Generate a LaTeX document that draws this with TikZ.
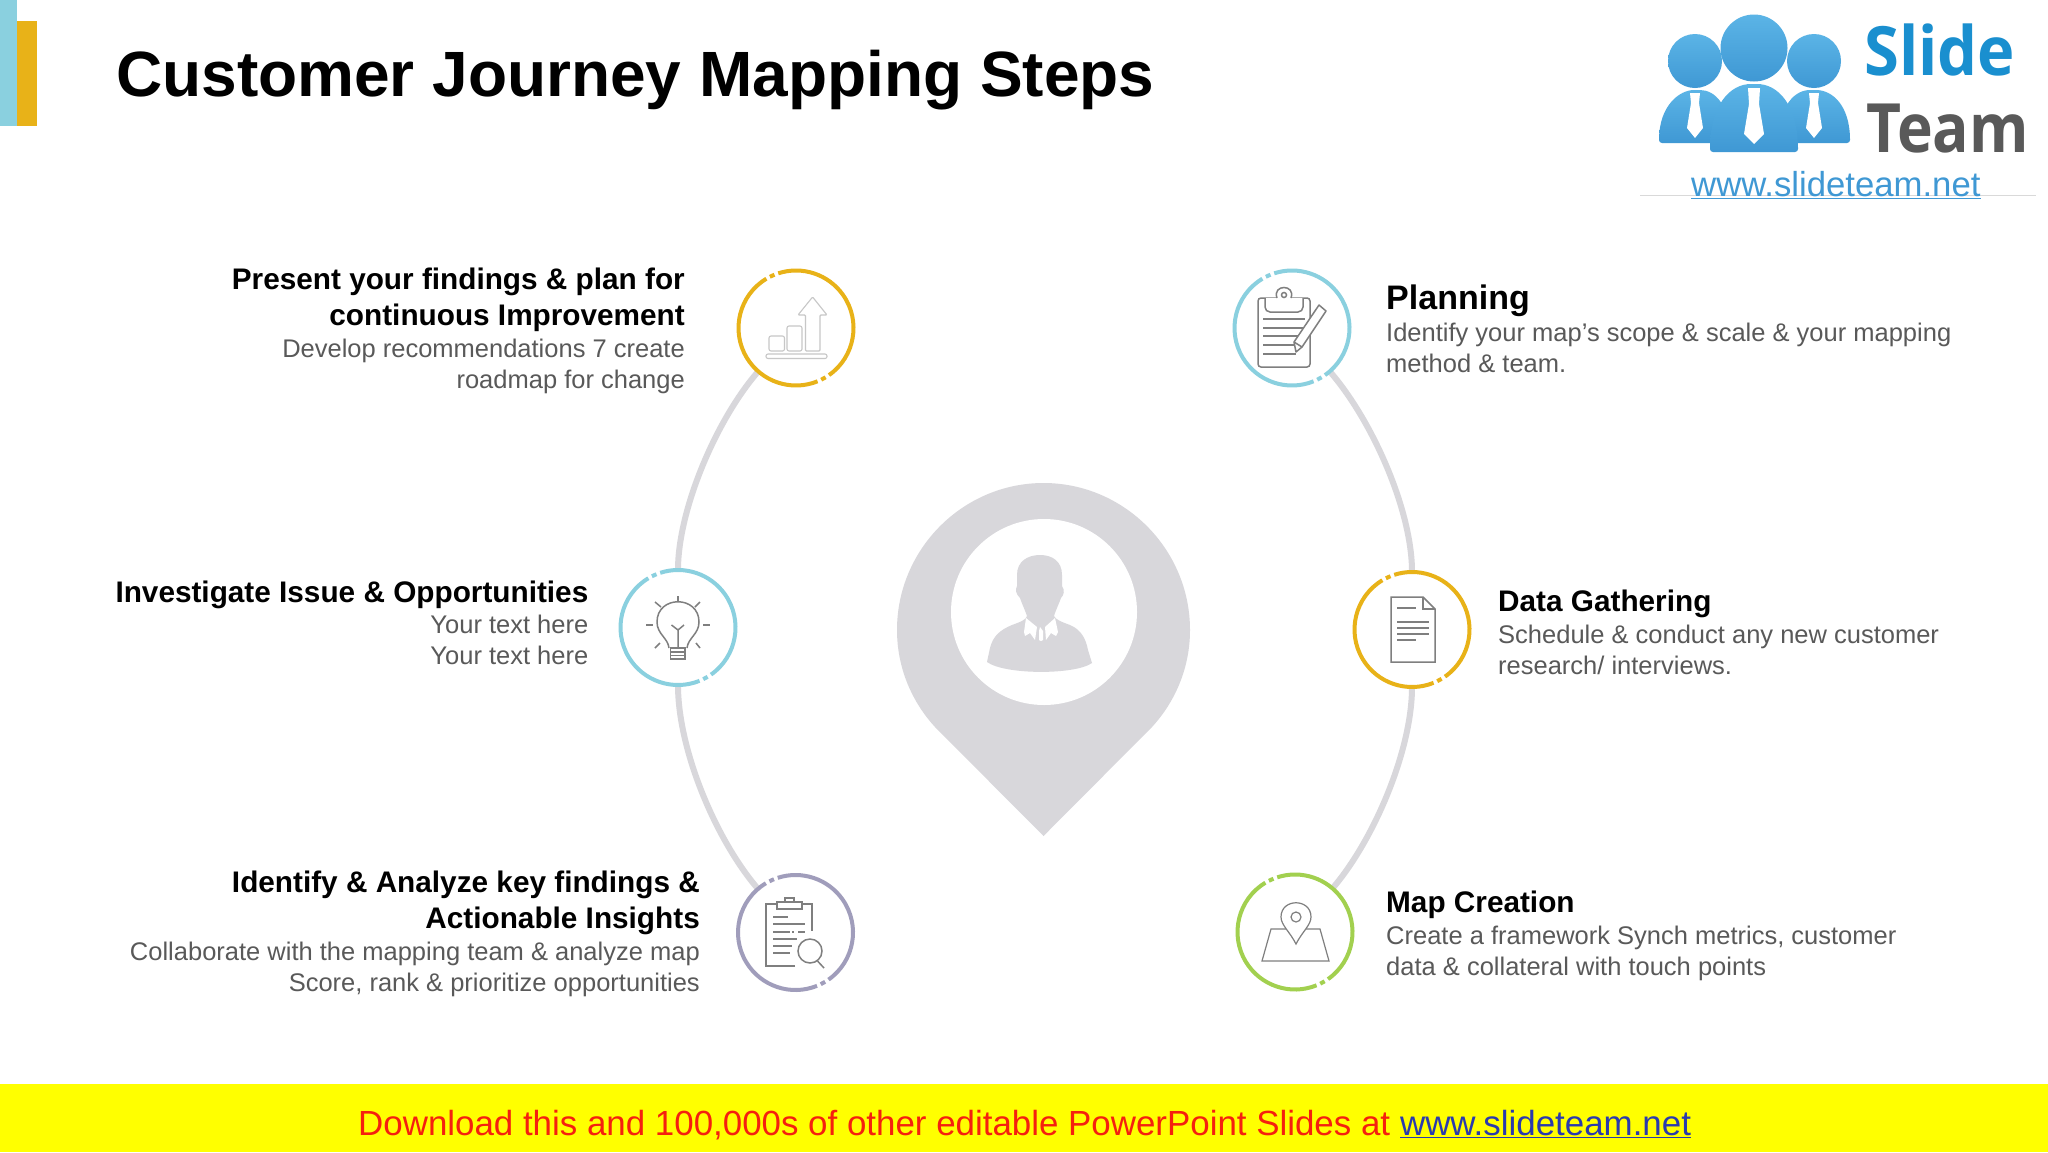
\documentclass[tikz,border=0pt]{standalone}
\usepackage{fontspec}
\setmainfont{Liberation Sans}
\newfontfamily\logofont{Open Sans}
\definecolor{tealc}{HTML}{8AD0DF}
\definecolor{goldc}{HTML}{E8B218}
\definecolor{purplec}{HTML}{A09DBB}
\definecolor{greenc}{HTML}{A2D04F}
\definecolor{pingrey}{HTML}{D8D7DB}
\definecolor{iconc}{HTML}{7F7F7F}
\definecolor{bodyc}{HTML}{595959}
\definecolor{logob}{HTML}{5BB4E6}
\definecolor{logod}{HTML}{3F98D4}
\definecolor{slidec}{HTML}{1A8FCF}
\definecolor{footy}{HTML}{FFFF00}
\definecolor{footr}{HTML}{F5200F}
\definecolor{footb}{HTML}{2A3AAE}
\tikzset{
  x=1pt,y=-1pt,
  ringnode/.style={circle,fill=white,minimum size=115pt,inner sep=0pt},
  arcline/.style={draw=pingrey,line width=6pt},
  ic/.style={draw=iconc,line width=1.5pt},
  iclight/.style={draw=black!22,line width=1.1pt},
  head/.style={anchor=base east,align=right,inner sep=0pt,font=\fontsize{29.75}{36}\selectfont\bfseries},
  headl/.style={anchor=base west,align=left,inner sep=0pt,font=\fontsize{29.75}{36}\selectfont\bfseries},
  bodyr/.style={anchor=base east,align=right,inner sep=0pt,text=bodyc,font=\fontsize{25.5}{31}\selectfont},
  bodyl/.style={anchor=base west,align=left,inner sep=0pt,text=bodyc,font=\fontsize{25.5}{31}\selectfont},
}
\newcommand{\ringmark}[2]{%
  \begin{scope}[shift={(#1)},y=1pt,draw=#2,line width=4pt]
    \draw (-55:57.5pt) arc[start angle=-55,end angle=108,radius=57.5pt];
    \draw (112:57.5pt) arc[start angle=112,end angle=117,radius=57.5pt];
    \draw (121:57.5pt) arc[start angle=121,end angle=292,radius=57.5pt];
    \draw (296:57.5pt) arc[start angle=296,end angle=301,radius=57.5pt];
  \end{scope}}
\begin{document}
\begin{tikzpicture}
\useasboundingbox (0,0) rectangle (2048,1152);
\fill[white] (0,0) rectangle (2048,1152);
% corner bars
\fill[tealc] (0,0) rectangle (17,126);
\fill[goldc] (17,21) rectangle (37,126);
% title
\node[anchor=base west,inner sep=0pt,font=\fontsize{64}{70}\selectfont\bfseries] (title) at (116,96) {Customer Journey Mapping Steps};
% logo
\draw[black!15,line width=1pt] (1640,195) -- (2036,195);
\shade[top color=logob,bottom color=logod,rounded corners=3pt] (1659,143) .. controls (1659,105) and (1680,90) .. (1697,90) .. controls (1715,90) and (1730,105) .. (1730,143) -- cycle;
\shade[top color=logob,bottom color=logod,rounded corners=3pt] (1779,143) .. controls (1779,105) and (1795,90) .. (1813,90) .. controls (1832,90) and (1850,105) .. (1850,143) -- cycle;
\shade[top color=logob,bottom color=logod,rounded corners=3pt] (1710,152) .. controls (1710,105) and (1730,84) .. (1754,84) .. controls (1778,84) and (1798,105) .. (1798,152) -- cycle;
\shade[top color=logob,bottom color=logod] (1695,61) circle[radius=27pt];
\shade[top color=logob,bottom color=logod] (1814,61) circle[radius=27pt];
\shade[top color=logob,bottom color=logod] (1754,48) circle[radius=33.5pt];
\fill[white] (1690,93) -- (1700,93) -- (1699,103) -- (1703,128) -- (1695,138) -- (1687,128) -- (1691,103) -- cycle;
\fill[white] (1809,93) -- (1819,93) -- (1818,103) -- (1822,128) -- (1814,138) -- (1806,128) -- (1810,103) -- cycle;
\fill[white] (1748,88) -- (1760,88) -- (1759,104) -- (1764,134) -- (1754,144) -- (1744,134) -- (1749,104) -- cycle;
\node[anchor=base west,inner sep=0pt,text=slidec,font=\logofont\fontsize{68}{70}\selectfont\bfseries] (slide) at (1864,75) {\scalebox{.93}[1]{Slide}};
\node[anchor=base west,inner sep=0pt,text=black!65,font=\logofont\fontsize{68}{70}\selectfont\bfseries] (team) at (1866,152) {\scalebox{.89}[1]{Team}};
\node[anchor=base west,inner sep=0pt,text=logod,font=\fontsize{34.7}{38}\selectfont] (url) at (1691,196) {\underline{www.slideteam.net}};
% pin
\fill[pingrey] (935,727) .. controls (912,702) and (897,668) .. (897,630)
  .. controls (897,549) and (963,483) .. (1043.5,483)
  .. controls (1124,483) and (1190,549) .. (1190,630)
  .. controls (1190,668) and (1175,702) .. (1152,727) -- (1043.5,836) -- cycle;
\fill[white] (1044,612) circle[radius=93pt];
% person
\fill[pingrey] (1017,575) .. controls (1017,561) and (1028,555) .. (1040,555)
  .. controls (1052,555) and (1062,561) .. (1062,575) -- (1062,586)
  .. controls (1065,590) and (1064,595) .. (1061,598) .. controls (1058,606) and (1055,612) .. (1054,616)
  .. controls (1056,620) and (1062,622) .. (1070,625) .. controls (1082,630) and (1086,640) .. (1088,650)
  -- (1092,663) .. controls (1075,675) and (1005,675) .. (987,662)
  -- (990,648) .. controls (993,636) and (1000,630) .. (1012,625) .. controls (1020,622) and (1026,620) .. (1027,616)
  .. controls (1025,610) and (1022,604) .. (1020,598) .. controls (1016,594) and (1015,590) .. (1017,586) -- cycle;
\fill[white] (1026,618) -- (1037,627) -- (1035,640) -- (1030,633) -- (1025,636) -- (1024,632) -- cycle;
\fill[white] (1055,618) -- (1045,627) -- (1046,640) -- (1051,633) -- (1056,636) -- (1058,632) -- cycle;
\fill[white] (1040,627) -- (1043,631) -- (1043,640) -- (1041,641) -- (1039,640) -- (1039,631) -- cycle;
% ring nodes
\node[ringnode] (present) at (796,328) {};
\node[ringnode] (investigate) at (678,627.5) {};
\node[ringnode] (identify) at (795.5,932.5) {};
\node[ringnode] (planning) at (1292,328) {};
\node[ringnode] (gathering) at (1412,629.5) {};
\node[ringnode] (creation) at (1295,932) {};
% connectors
\draw[arcline] (present) .. controls (716,420) and (678,510) .. (investigate);
\draw[arcline] (investigate) .. controls (678,750) and (716,840) .. (identify);
\draw[arcline] (planning) .. controls (1372,420) and (1412,510) .. (gathering);
\draw[arcline] (gathering) .. controls (1412,750) and (1374,840) .. (creation);
% rings
\ringmark{present}{goldc}
\ringmark{investigate}{tealc}
\ringmark{identify}{purplec}
\ringmark{planning}{tealc}
\ringmark{gathering}{goldc}
\ringmark{creation}{greenc}
% icon: chart
\draw[iclight,rounded corners=2pt] (769,336) rectangle (784.5,351);
\draw[iclight,rounded corners=2pt] (787,326) rectangle (802,351);
\draw[iclight,rounded corners=1pt] (805.5,351) -- (805.5,315) -- (798,315) -- (812.6,297) -- (827,315) -- (820,315) -- (820,351) -- cycle;
\draw[iclight,rounded corners=2pt] (766,354) rectangle (827,358.5);
% icon: clipboard and pencil
\draw[ic,rounded corners=3pt] (1258,298) rectangle (1310,367);
\draw[ic,fill=white,rounded corners=5pt] (1265,298) -- (1265,312) -- (1303,312) -- (1303,298);
\draw[ic,fill=white] (1277,298) .. controls (1272,284) and (1296,284) .. (1291,298);
\draw[ic] (1284,295) circle[radius=2.5pt];
\foreach \yy/\xe in {319/1305,328/1305,336/1298,345/1294,354/1296}
  \draw[ic] (1263,\yy) -- (\xe,\yy);
\draw[ic,fill=white,line join=round] (1296,352) -- (1294,342) -- (1319,305) -- (1326,311) -- (1302,347) -- cycle;
\draw[ic] (1294,342) -- (1302,347);
% icon: bulb
\draw[ic] (669,648) .. controls (668,638) and (657,634) .. (657,622) .. controls (657,595) and (699,595) .. (699,622) .. controls (699,634) and (688,638) .. (687,648);
\draw[ic] (678,630) -- (671.5,625) (678,630) -- (684,625) (678,630) -- (678,648);
\draw[ic] (670.5,648) rectangle (685,659);
\draw[ic] (670.5,652) -- (685,652) (670.5,655.5) -- (685,655.5);
\draw[ic] (678,596) -- (678,602) (646,625) -- (653,625) (703,625) -- (710,625);
\draw[ic] (655,602) -- (661,607) (700,602) -- (695,607) (655,648) -- (660,643) (700,648) -- (696,643);
% icon: document
\draw[ic] (1391,597) -- (1423,597) -- (1435,609) -- (1435,662) -- (1391,662) -- cycle;
\draw[ic] (1423,597) -- (1423,609) -- (1435,609);
\draw[ic] (1397,608) -- (1416,608) (1397,622) -- (1429,622) (1397,628) -- (1429,628) (1397,634) -- (1429,634) (1397,640) -- (1416,640);
% icon: clipboard and magnifier
\draw[ic] (795,966) -- (766,966) -- (766,904) -- (777,904) (802,904) -- (812,904) -- (812,931);
\draw[ic] (777,909) rectangle (802,902);
\draw[ic] (785,902) rectangle (794,898);
\draw[ic] (773,917) -- (788,917) (773,924) -- (805,924) (773,932) -- (790,932) (792,932) -- (794,932) (798,932) -- (805,932) (773,939) -- (797,939) (773,946) -- (792,946) (773,953) -- (789.5,953);
\draw[ic,fill=white] (810,951) circle[radius=12pt];
\draw[ic] (817.5,961) -- (824,968);
% icon: map
\draw[ic,line width=1.2pt] (1271,929) -- (1320,929) -- (1329,961) -- (1262,961) -- cycle;
\draw[ic,line width=1.2pt,fill=white] (1296,944) .. controls (1290,932) and (1281,925) .. (1281,917) .. controls (1281,898) and (1311,898) .. (1311,917) .. controls (1311,925) and (1302,932) .. (1296,944) -- cycle;
\draw[ic,line width=1.2pt] (1296,917) circle[radius=5pt];
% left texts
\node[head] (t1) at (685,325) {Present your findings \& plan for\\continuous Improvement};
\node[bodyr] (b1) at (685,388) {Develop recommendations 7 create\\roadmap for change};
\node[head] (t2) at (588.5,602.5) {Investigate Issue \& Opportunities};
\node[bodyr] (b2) at (588.5,664.5) {Your text here\\Your text here};
\node[head] (t3) at (700,928.5) {Identify \& Analyze key findings \&\\Actionable Insights};
\node[bodyr] (b3) at (700,991) {Collaborate with the mapping team \& analyze map\\Score, rank \& prioritize opportunities};
% right texts
\node[headl,font=\fontsize{34}{38}\selectfont\bfseries] (t4) at (1386,309) {Planning};
\node[bodyl] (b4) at (1386,372) {Identify your map’s scope \& scale \& your mapping\\method \& team.};
\node[headl] (t5) at (1498,611) {Data Gathering};
\node[bodyl] (b5) at (1498,674) {Schedule \& conduct any new customer\\research/ interviews.};
\node[headl] (t6) at (1386,912) {Map Creation};
\node[bodyl] (b6) at (1386,975) {Create a framework Synch metrics, customer\\data \& collateral with touch points};
% footer
\fill[footy] (0,1084) rectangle (2048,1152);
\node[anchor=base west,inner sep=0pt,font=\fontsize{34.9}{38}\selectfont,text=footr] (foot) at (358,1135) {Download this and 100,000s of other editable PowerPoint Slides at \textcolor{footb}{\underline{www.slideteam.net}}};
\end{tikzpicture}
\end{document}
